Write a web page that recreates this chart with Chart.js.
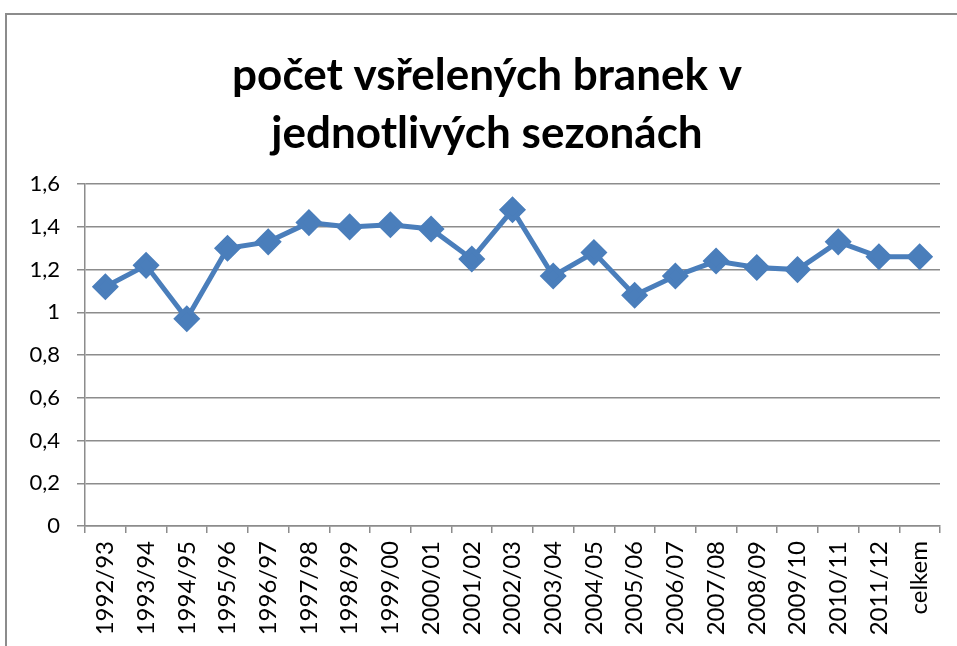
<!DOCTYPE html>
<html>
<head>
<meta charset="utf-8">
<script src="https://cdn.jsdelivr.net/npm/chart.js@4/dist/chart.umd.min.js"></script>
<style>
  html, body { margin: 0; padding: 0; background: #fff; overflow: hidden; }
  #frame { position: absolute; left: 5px; top: 13px; width: 1000px; height: 700px;
           border-left: 2px solid #8c8c8c; border-top: 2px solid #8c8c8c; }
  #wrap { position: absolute; left: 0; top: 0; width: 957px; height: 646px; }
</style>
</head>
<body>
<div id="frame"></div>
<div id="wrap"><canvas id="golyChart" width="957" height="646"></canvas></div>
<script>
// sezony a průměr vstřelených branek
const sezony = ['1992/93', '1993/94', '1994/95', '1995/96', '1996/97', '1997/98', '1998/99',
    '1999/00', '2000/01', '2001/02', '2002/03', '2003/04', '2004/05', '2005/06', '2006/07',
    '2007/08', '2008/09', '2009/10', '2010/11', '2011/12', 'celkem'];
const branky = [1.12, 1.22, 0.97, 1.30, 1.33, 1.42, 1.40, 1.41, 1.39, 1.25, 1.48,
    1.17, 1.28, 1.08, 1.17, 1.24, 1.21, 1.20, 1.33, 1.26, 1.26];
const titulek = ['počet vsřelených branek v', 'jednotlivých sezonách'];

// titulek je v originále trochu vpravo od středu plátna
const posunTitulku = {
    id: 'posunTitulku',
    afterLayout: function (chart) {
        if (chart.titleBlock) chart.titleBlock.left = 34;
    }
};

const ctx = document.getElementById('golyChart').getContext('2d');
new Chart(ctx, {
    type: 'line',
    data: {
        labels: sezony,
        datasets: [{
            label: 'branky',
            data: branky,
            borderColor: '#4a7ebb',
            backgroundColor: '#4a7ebb',
            borderWidth: 5,
            pointStyle: 'rectRot',
            pointRadius: 10,
            pointHoverRadius: 10,
            tension: 0
        }]
    },
    options: {
        responsive: false,
        animation: false,
        layout: { padding: { left: 0, right: 17, top: 0, bottom: 0 } },
        plugins: {
            legend: { display: false },
            tooltip: { enabled: false },
            title: {
                display: true,
                text: titulek,
                color: '#000',
                font: { family: 'Lato', size: 44, weight: 'bold', lineHeight: 1.32 },
                padding: { top: 47, bottom: 21 }
            }
        },
        scales: {
            x: {
                offset: true,
                grid: { display: true, offset: true, drawOnChartArea: false, drawTicks: true,
                        tickLength: 7, color: '#8c8c8c', lineWidth: 1.5 },
                border: { color: '#8c8c8c', width: 1.5 },
                ticks: { color: '#000', font: { family: 'Lato', size: 24 },
                         minRotation: 90, maxRotation: 90, autoSkip: false, padding: 8 },
                afterFit: function (scale) { scale.height = 120; }
            },
            y: {
                min: 0,
                max: 1.6,
                grid: { color: '#8c8c8c', lineWidth: 1.5, tickLength: 8 },
                border: { color: '#8c8c8c', width: 1.5 },
                ticks: {
                    stepSize: 0.2,
                    color: '#000',
                    font: { family: 'Lato', size: 22 },
                    padding: 17,
                    callback: function (v) {
                        return String(Math.round(v * 10) / 10).replace('.', ',');
                    }
                },
                afterFit: function (scale) { scale.width = 85; }
            }
        }
    },
    plugins: [posunTitulku]
});
</script>
</body>
</html>
